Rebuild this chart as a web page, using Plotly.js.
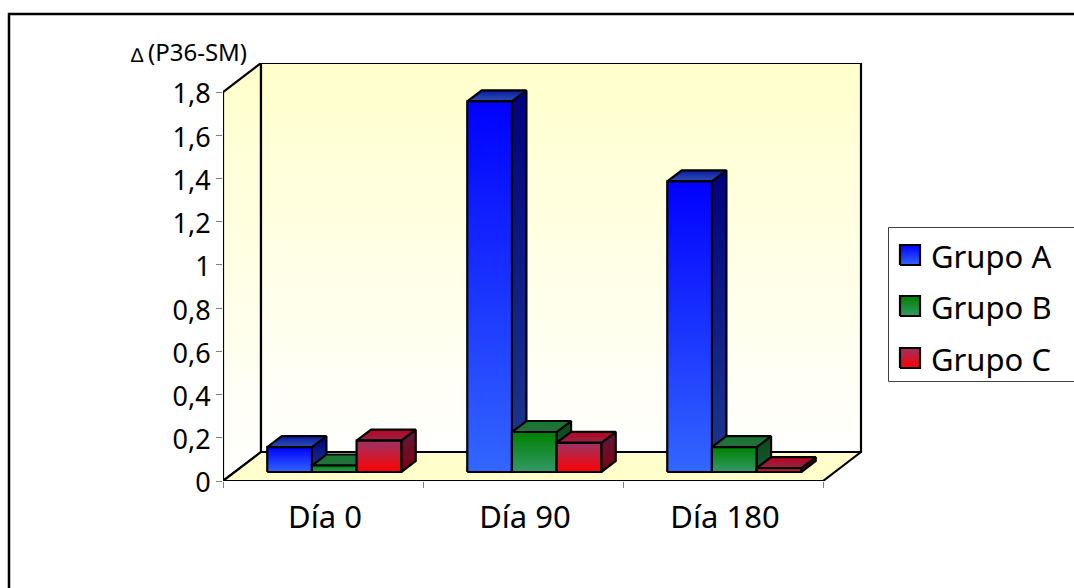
<!DOCTYPE html>
<html>
<head>
<meta charset="utf-8">
<script src="https://cdn.plot.ly/plotly-3.0.1.min.js"></script>
<style>html,body{margin:0;padding:0;background:#fff;overflow:hidden}#chart{width:1074px;height:588px}</style>
</head>
<body>
<div id="chart"></div>
<script>
// Values per group, one entry per measurement day
const categories = ['Día 0', 'Día 90', 'Día 180'];
const grupoA = [0.115, 1.715, 1.345];
const grupoB = [0.03, 0.185, 0.115];
const grupoC = [0.145, 0.135, 0.018];
const seriesNames = ['Grupo A', 'Grupo B', 'Grupo C'];
const yTickVals = [0, 0.2, 0.4, 0.6, 0.8, 1, 1.2, 1.4, 1.6, 1.8];
const yTickText = ['0', '0,2', '0,4', '0,6', '0,8', '1', '1,2', '1,4', '1,6', '1,8'];

// Page geometry: the plot area runs to the right edge so the legend keys share its axes
const W = 1074, H = 588;
const LEFT = 223, RIGHT = 1074, TOP = 63, BASE = 481;
const PX_PER_CAT = 200, PX_PER_UNIT = 216.1;
const dataX = px => (px - LEFT) / PX_PER_CAT;
const dataY = py => (BASE - py) / PX_PER_UNIT;
const paperX = px => (px - LEFT) / (RIGHT - LEFT);
const paperY = py => (BASE - py) / (BASE - TOP);

// Oblique projection: depth of the box, and of the bars inside it
const BOX_DX = 38 / PX_PER_CAT, BOX_DY = 29 / PX_PER_UNIT;
const BAR_DX = 14.5 / PX_PER_CAT, BAR_DY = 11 / PX_PER_UNIT;
const FRONT_DX = 11.25 / PX_PER_CAT, FRONT_DY = 9 / PX_PER_UNIT;
const GAP = 33 / PX_PER_CAT, BAR_W = (1 - 2 * GAP) / 3;

const faces = {
  'Grupo A': {front: ['#0000ff', '#3366ff'], top: ['#0a1aa0', '#2f4fb5'], side: ['#000080', '#1f3a8f']},
  'Grupo B': {front: ['#008000', '#339966'], top: ['#127a2a', '#2a6b45'], side: ['#0b4a18', '#155a30']},
  'Grupo C': {front: ['#993366', '#ff0000'], top: ['#c00020', '#8b2845'], side: ['#5c1a3c', '#800010']}
};
const seriesValues = [grupoA, grupoB, grupoC];
const EDGE = 2.2;

// Closed polygon filled with a vertical gradient; colours run top to bottom
function face(xs, ys, colors) {
  return {
    type: 'scatter', mode: 'lines', x: xs.concat(xs[0]), y: ys.concat(ys[0]),
    fill: 'toself',
    fillgradient: {type: 'vertical', colorscale: [[0, colors[1]], [1, colors[0]]]},
    line: {color: '#000', width: EDGE},
    hoverinfo: 'skip', showlegend: false, cliponaxis: false
  };
}
function flat(xs, ys, color) {
  return {
    type: 'scatter', mode: 'lines', x: xs.concat(xs[0]), y: ys.concat(ys[0]),
    fill: 'toself', fillcolor: color,
    line: {color: '#000', width: EDGE},
    hoverinfo: 'skip', showlegend: false, cliponaxis: false
  };
}

const traces = [];
const X3 = 3, Y18 = 1.8;
const wall = ['#ffffcc', '#ffffff'];

// Left wall, back wall and floor of the box
traces.push(face([0, BOX_DX, BOX_DX, 0], [0, BOX_DY, Y18 + BOX_DY, Y18], wall));
traces.push(face([BOX_DX, X3 + BOX_DX, X3 + BOX_DX, BOX_DX], [BOX_DY, BOX_DY, Y18 + BOX_DY, Y18 + BOX_DY], wall));
traces.push(flat([0, X3, X3 + BOX_DX, BOX_DX], [0, 0, BOX_DY, BOX_DY], '#ffffcc'));

// Bars, back faces first so each front covers its left neighbour's side
categories.forEach((cat, c) => {
  seriesNames.forEach((name, s) => {
    const v = seriesValues[s][c];
    const x0 = c + GAP + s * BAR_W + FRONT_DX, x1 = x0 + BAR_W;
    const y0 = FRONT_DY, y1 = FRONT_DY + v;
    const col = faces[name];
    traces.push(face([x1, x1 + BAR_DX, x1 + BAR_DX, x1], [y0, y0 + BAR_DY, y1 + BAR_DY, y1], col.side));
    traces.push(face([x0, x1, x1 + BAR_DX, x0 + BAR_DX], [y1, y1, y1 + BAR_DY, y1 + BAR_DY], col.top));
  });
});
categories.forEach((cat, c) => {
  seriesNames.forEach((name, s) => {
    const v = seriesValues[s][c];
    const x0 = c + GAP + s * BAR_W + FRONT_DX, x1 = x0 + BAR_W;
    const y0 = FRONT_DY, y1 = FRONT_DY + v;
    const t = face([x0, x1, x1, x0], [y0, y0, y1, y1], faces[name].front);
    t.name = name + ' ' + cat;
    traces.push(t);
  });
});

// Legend keys
const keyY = [255, 306, 358];
seriesNames.forEach((name, i) => {
  const cx = 910, cy = keyY[i], r = 10;
  traces.push(face(
    [dataX(cx - r), dataX(cx + r), dataX(cx + r), dataX(cx - r)],
    [dataY(cy + r), dataY(cy + r), dataY(cy - r), dataY(cy - r)],
    faces[name].front));
});

const FONT = '"Noto Sans", Tahoma, sans-serif';
const legendText = seriesNames.map((name, i) => ({
  xref: 'paper', yref: 'paper', x: paperX(929), y: paperY(keyY[i] + 1),
  xanchor: 'left', yanchor: 'middle', text: name, showarrow: false,
  font: {family: FONT, size: 31, color: '#000'}
}));

const layout = {
  width: W, height: H, autosize: false,
  paper_bgcolor: '#fff', plot_bgcolor: 'rgba(0,0,0,0)',
  margin: {l: LEFT, r: W - RIGHT, t: TOP, b: H - BASE, pad: 0},
  showlegend: false,
  xaxis: {
    range: [0, dataX(RIGHT)], showgrid: false, zeroline: false, showline: false,
    tickmode: 'array', tickvals: [0.5, 1.5, 2.5], ticktext: categories, ticks: '',
    ticklabelstandoff: 15, ticklabelshift: 2,
    tickfont: {family: FONT, size: 31, color: '#000'},
    minor: {tickmode: 'array', tickvals: [0, 1, 2, 3], ticks: 'outside', ticklen: 6, tickwidth: 1, tickcolor: '#808080', showgrid: false}
  },
  yaxis: {
    range: [0, dataY(TOP)], showgrid: false, zeroline: false, showline: false,
    tickmode: 'array', tickvals: yTickVals, ticktext: yTickText,
    ticks: 'outside', ticklen: 6, tickwidth: 1, tickcolor: '#808080',
    ticklabelshift: 2,
    tickfont: {family: FONT, size: 27, color: '#000'}
  },
  shapes: [
    // Chart frame, running off the right and bottom of the page
    {type: 'rect', xref: 'paper', yref: 'paper', x0: paperX(9), x1: paperX(1090), y0: paperY(14), y1: paperY(600),
     line: {color: '#000', width: 2.5}, layer: 'below'},
    // Legend box
    {type: 'rect', xref: 'paper', yref: 'paper', x0: paperX(888.5), x1: paperX(1090), y0: paperY(227.5), y1: paperY(381.5),
     line: {color: '#404040', width: 1}, fillcolor: '#fff', layer: 'below'}
  ],
  annotations: legendText.concat([
    {xref: 'paper', yref: 'paper', x: paperX(129), y: paperY(54),
     xanchor: 'left', yanchor: 'middle', showarrow: false, text: '∆',
     font: {family: FONT, size: 20, color: '#000'}},
    {xref: 'paper', yref: 'paper', x: paperX(146), y: paperY(52),
     xanchor: 'left', yanchor: 'middle', showarrow: false, text: '(P36-SM)',
     font: {family: FONT, size: 24, color: '#000'}}
  ])
};

Plotly.newPlot('chart', traces, layout, {staticPlot: true, displayModeBar: false});
</script>
</body>
</html>
